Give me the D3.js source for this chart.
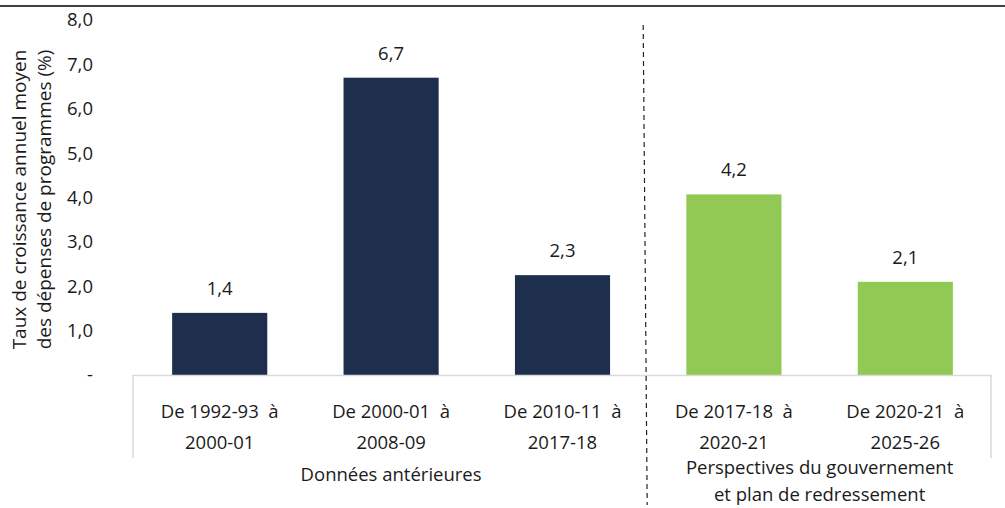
<!DOCTYPE html>
<html>
<head>
<meta charset="utf-8">
<script src="https://cdn.jsdelivr.net/npm/d3@7"></script>
<style>
  body { margin: 0; background: #fff; }
  text { font-family: 'Open Sans', 'Noto Sans', sans-serif; fill: #1a1a1a; white-space: pre; }
</style>
</head>
<body>
<div id="chart"></div>
<script>
// data
const categories = ['c1', 'c2', 'c3', 'c4', 'c5'];
const catLine1 = ['De 1992-93  à', 'De 2000-01  à', 'De 2010-11  à', 'De 2017-18  à', 'De 2020-21  à'];
const catLine2 = ['2000-01', '2008-09', '2017-18', '2020-21', '2025-26'];
const barValues = [1.4, 6.7, 2.25, 4.07, 2.1];
const valueLabels = ['1,4', '6,7', '2,3', '4,2', '2,1'];
const groupOf = [0, 0, 0, 1, 1];
const groups = [['Données antérieures'], ['Perspectives du gouvernement', 'et plan de redressement']];
const yTicks = [0, 1, 2, 3, 4, 5, 6, 7, 8];
const yTitle = ['Taux de croissance annuel moyen', 'des dépenses de programmes (%)'];

const w = 1005, h = 508;
const colors = ['#1d2f4c', '#92c955'];
const fs = '18.5px';

const x = d3.scaleBand().domain(categories).range([134, 991]).paddingInner(0.445).paddingOuter(0.2225);
const y = d3.scaleLinear().domain([0, 8]).range([375, 20]);

const svg = d3.select('#chart').append('svg').attr('width', w).attr('height', h);

// top rule
svg.append('line').attr('x1', 0).attr('x2', w).attr('y1', 6).attr('y2', 6)
   .attr('stroke', '#404040').attr('stroke-width', 2);

// y axis labels only
const yAxis = d3.axisLeft(y).tickValues(yTicks).tickSize(0).tickPadding(0)
   .tickFormat(d => d === 0 ? '-' : d3.format('.1f')(d).replace('.', ','));
const gy = svg.append('g').attr('transform', 'translate(93,0)').call(yAxis);
gy.select('.domain').remove();
gy.selectAll('text').style('font-size', fs).style('font-family', null);

// y title
const yt = svg.append('text').attr('transform', 'translate(0,' + (y(4) + 2) + ') rotate(-90)')
   .attr('text-anchor', 'middle').style('font-size', '19px');
yTitle.forEach((t, i) => yt.append('tspan').attr('x', 0).attr('y', 26 + i * 25).text(t));

// bars
svg.selectAll('rect.bar').data(categories).enter().append('rect')
   .attr('class', 'bar')
   .attr('x', d => x(d))
   .attr('width', x.bandwidth())
   .attr('y', (d, i) => y(barValues[i]))
   .attr('height', (d, i) => y(0) - y(barValues[i]))
   .attr('fill', (d, i) => colors[groupOf[i]]);

// value labels
svg.selectAll('text.val').data(categories).enter().append('text')
   .attr('class', 'val')
   .attr('x', d => x(d) + x.bandwidth() / 2)
   .attr('y', (d, i) => y(barValues[i]) - 18)
   .attr('text-anchor', 'middle').style('font-size', fs)
   .text((d, i) => valueLabels[i]);

// category axis box
const step = x.step();
const x0 = 134, x1 = 991;
const axisCol = '#d9d9d9';
svg.append('line').attr('x1', x0 - 1).attr('x2', x1).attr('y1', y(0) + 0.5).attr('y2', y(0) + 0.5)
   .attr('stroke', axisCol).attr('stroke-width', 1.5);
[x0 - 1, x1].forEach(xx => svg.append('line').attr('x1', xx).attr('x2', xx)
   .attr('y1', y(0)).attr('y2', 458).attr('stroke', axisCol).attr('stroke-width', 1.5));

// category labels
categories.forEach((c, i) => {
  const cx = x(c) + x.bandwidth() / 2;
  svg.append('text').attr('x', cx).attr('y', 418).attr('text-anchor', 'middle')
     .style('font-size', fs).text(catLine1[i]);
  svg.append('text').attr('x', cx).attr('y', 449).attr('text-anchor', 'middle')
     .style('font-size', fs).text(catLine2[i]);
});

// group labels
groups.forEach((lines, g) => {
  const members = categories.filter((c, i) => groupOf[i] === g);
  const gx = (x(members[0]) + x(members[members.length - 1]) + x.bandwidth()) / 2;
  const startY = lines.length === 1 ? 481 : 474;
  lines.forEach((t, k) => svg.append('text').attr('x', gx).attr('y', startY + k * 27)
     .attr('text-anchor', 'middle').style('font-size', fs).text(t));
});

// dashed divider between groups
const divX = x(categories[3]) - (step - x.bandwidth()) / 2;
svg.append('line').attr('x1', divX - 5).attr('x2', divX - 1).attr('y1', 25).attr('y2', 505)
   .attr('stroke', '#222').attr('stroke-width', 1.2).attr('stroke-dasharray', '5,4');
</script>
</body>
</html>
